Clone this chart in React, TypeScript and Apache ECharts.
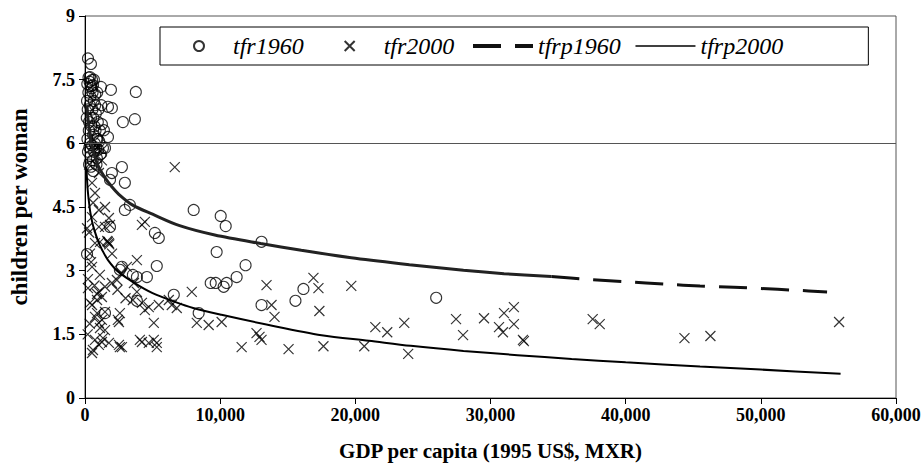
import React, { useEffect, useRef } from "react";
import * as echarts from "echarts";

// ---- data ----
const xTickValues = [0, 10000, 20000, 30000, 40000, 50000, 60000];
const yTickLabels = ["0", "1.5", "3", "4.5", "6", "7.5", "9"];

const tfr1960: [number, number][] = [
  [150, 7.0], [200, 6.8], [250, 7.2], [300, 6.5], [350, 6.9], [400, 7.1], [450, 6.6], [500, 7.3],
  [550, 6.8], [600, 6.2], [650, 7.0], [700, 6.4], [750, 6.9], [800, 6.7], [850, 6.1], [900, 7.2],
  [950, 6.5], [1000, 6.8], [1100, 6.3], [1200, 6.9], [180, 6.1], [220, 5.8], [280, 6.3], [320, 5.9],
  [380, 6.0], [420, 5.7], [480, 6.4], [520, 5.95], [580, 5.6], [620, 6.6], [680, 5.8], [720, 6.0],
  [780, 6.3], [820, 5.9], [880, 5.65], [920, 6.1], [980, 5.85], [1050, 6.05], [1150, 5.75], [1250, 6.45],
  [130, 6.6], [170, 7.4], [260, 7.55], [340, 7.45], [460, 7.35], [560, 7.2], [660, 7.5], [760, 7.15],
  [300, 5.5], [450, 5.45], [600, 5.35], [850, 5.5],
  [220, 8.0], [440, 7.87], [370, 7.56], [520, 7.49], [590, 7.37], [1180, 7.33], [1920, 7.26], [3760, 7.21],
  [1700, 6.86], [1990, 6.83], [2800, 6.5], [3690, 6.57], [1400, 6.31], [1700, 6.15], [1330, 5.89], [1480, 5.89],
  [2730, 5.44], [1990, 5.3], [2950, 5.07], [1850, 5.14], [2950, 4.43], [3320, 4.55], [5170, 3.89], [5460, 3.77],
  [5310, 3.11], [3840, 2.85], [4580, 2.85], [2580, 3.02], [3840, 2.29], [1480, 2.0], [150, 3.39], [6570, 2.43],
  [8410, 2.0], [8040, 4.43], [10040, 4.29], [10410, 4.05], [9740, 3.44], [9300, 2.71], [9670, 2.71], [10260, 2.62],
  [10480, 2.71], [11220, 2.85], [11880, 3.13], [13060, 3.68], [13060, 2.19], [15570, 2.29], [16160, 2.57], [25980, 2.36],
  [1850, 4.03], [2730, 3.09], [3540, 2.9],
];

const tfr2000: [number, number][] = [
  [6640, 5.44], [517, 1.06], [1030, 1.25], [1250, 1.32], [1770, 1.3], [2510, 1.25], [2580, 1.2], [4060, 1.37],
  [4210, 1.32], [5090, 1.37], [5310, 1.3], [5310, 1.2], [5090, 1.77], [2510, 1.79], [2580, 2.0], [1250, 1.84],
  [1480, 1.6], [740, 1.91], [520, 2.19], [890, 2.31], [1250, 2.38], [1030, 2.5], [1480, 2.62], [1990, 2.71],
  [2360, 2.78], [2730, 2.94], [3100, 3.09], [3840, 3.25], [3620, 2.71], [3840, 2.5], [4210, 2.24], [4720, 2.14],
  [5460, 2.19], [6200, 2.31], [6420, 2.19], [6790, 2.12], [7900, 2.5], [8270, 1.77], [9150, 1.72], [10110, 1.79],
  [11590, 1.2], [12690, 1.53], [12910, 1.44], [13060, 1.37], [13430, 2.66], [13800, 2.19], [14020, 1.91], [15060, 1.15],
  [16900, 2.83], [17270, 2.59], [17340, 2.05], [17640, 1.22], [19700, 2.64], [20660, 1.22], [21480, 1.67], [22360, 1.55],
  [23620, 1.77], [23910, 1.04], [27450, 1.86], [27970, 1.48], [29520, 1.88], [31000, 2.0], [31730, 2.14], [30630, 1.67],
  [30920, 1.55], [31730, 1.74], [32400, 1.37], [32470, 1.34], [37560, 1.86], [38080, 1.74], [44350, 1.41], [46270, 1.46],
  [55790, 1.79],
  [520, 3.09], [740, 3.65], [1110, 3.68], [1770, 3.65], [1030, 4.03], [1480, 4.03], [1850, 4.08], [1480, 4.5],
  [1030, 4.43], [520, 4.26], [1770, 4.24], [4210, 4.08], [4430, 4.15], [740, 4.83], [520, 5.07], [1030, 5.3],
  [1250, 5.6], [660, 5.84], [1250, 5.84], [1030, 1.77], [740, 1.37], [2730, 1.2], [4720, 1.3], [590, 1.13], [1330, 1.41],
  [220, 2.59], [890, 2.45], [370, 2.24], [890, 2.0], [1480, 2.03], [1110, 1.65], [2430, 1.84], [3540, 2.31],
  [4430, 2.07], [220, 2.8], [370, 3.4], [300, 3.9], [600, 4.6], [300, 5.5], [890, 5.9], [150, 4.0], [450, 3.2],
  [1100, 2.9], [2000, 3.4], [2400, 2.55], [3000, 2.35], [700, 2.65], [200, 1.5], [350, 1.75],
  [1700, 3.68], [1800, 3.62], [1650, 3.7],
];

const tfrp1960Solid: [number, number][] = [
  [150, 6.9], [200, 6.65], [300, 6.35], [400, 6.12], [550, 5.9], [700, 5.72], [1000, 5.45], [1500, 5.18],
  [2000, 4.97], [2500, 4.8], [3500, 4.55], [5000, 4.33], [7000, 4.06], [9600, 3.84], [13000, 3.64], [16000, 3.48],
  [20000, 3.29], [24000, 3.14], [28000, 3.01], [31000, 2.93], [34500, 2.86],
];
const tfrp1960Dashed: [number, number][] = [
  [34500, 2.86], [37000, 2.8], [40000, 2.74], [43000, 2.68], [45500, 2.64], [48000, 2.61], [50000, 2.58],
  [52500, 2.54], [54900, 2.5],
];
const tfrp2000: [number, number][] = [
  [100, 5.45], [150, 5.15], [200, 4.9], [300, 4.6], [400, 4.36], [550, 4.12], [700, 3.95], [1000, 3.67],
  [1250, 3.5], [1700, 3.25], [2500, 2.96], [3700, 2.7], [5000, 2.47], [6600, 2.27], [8000, 2.12], [10100, 1.96],
  [13600, 1.72], [17500, 1.48], [21000, 1.35], [24100, 1.23], [28000, 1.11], [32000, 1.01], [36000, 0.92],
  [40000, 0.84], [45500, 0.74], [50000, 0.67], [55900, 0.57],
];

const FONT = "'Liberation Serif', 'Times New Roman', Times, serif";
const CROSS = "path://M0,0L10,10M10,0L0,10";
const legendText = { fontFamily: FONT, fontStyle: "italic", fontSize: 24, color: "#000", lineHeight: 24 };

export default function App() {
  const ref = useRef<HTMLDivElement>(null);
  useEffect(() => {
    document.body.style.margin = "0";
    const chart = echarts.init(ref.current!, undefined, { renderer: "svg" });
    chart.setOption({
      animation: false,
      backgroundColor: "#fff",
      grid: {
        left: 83, right: 28, top: 16, bottom: 69, containLabel: false,
        show: true, borderColor: "#555", borderWidth: 1, backgroundColor: "transparent",
      },
      legend: [
        {
          left: 160, top: 27,
          padding: [7, 414, 7, 33],
          borderColor: "#000", borderWidth: 1,
          itemWidth: 10, itemHeight: 10, itemGap: 40,
          textStyle: legendText,
          data: [
            { name: "tfr1960", textStyle: { padding: [0, 0, 0, 24] } },
            { name: "tfr2000", textStyle: { padding: [0, 0, 0, 24] } },
          ],
        },
        {
          left: 471, top: 34,
          padding: 0,
          itemWidth: 60, itemHeight: 10, itemGap: 14,
          textStyle: legendText,
          data: [
            { name: "tfrp1960", lineStyle: { width: 4 }, itemStyle: { opacity: 0 } },
            { name: "tfrp2000", lineStyle: { width: 1.6 }, itemStyle: { opacity: 0 } },
          ],
        },
      ],
      xAxis: {
        type: "value", min: xTickValues[0], max: xTickValues[xTickValues.length - 1], interval: 10000,
        name: "GDP per capita (1995 US$, MXR)", nameLocation: "middle", nameGap: 42,
        nameTextStyle: { fontFamily: FONT, fontWeight: "bold", fontSize: 21, color: "#000" },
        axisLine: { lineStyle: { color: "#000", width: 1 } },
        axisTick: { show: true, length: 6, lineStyle: { color: "#000" } },
        axisLabel: {
          fontFamily: FONT, fontWeight: "bold", fontSize: 18, color: "#000", margin: 8,
          formatter: (v: number) => v.toLocaleString("en-US"),
        },
        splitLine: { show: false },
      },
      yAxis: {
        type: "value", min: 0, max: 9, interval: 1.5,
        name: "children per woman", nameLocation: "middle", nameGap: 54,
        nameTextStyle: { fontFamily: FONT, fontWeight: "bold", fontSize: 23, color: "#000" },
        axisLine: { show: true, lineStyle: { color: "#000", width: 1 } },
        axisTick: { show: true, length: 6, lineStyle: { color: "#000" } },
        axisLabel: {
          fontFamily: FONT, fontWeight: "bold", fontSize: 18, color: "#000", margin: 10,
          formatter: (_v: number, i: number) => yTickLabels[i],
        },
        splitLine: { show: false },
      },
      series: [
        {
          name: "tfr1960", type: "scatter", data: tfr1960,
          symbol: "circle", symbolSize: 11,
          itemStyle: { color: "rgba(0,0,0,0)", borderColor: "#000", borderWidth: 1.1 },
          markLine: {
            silent: true, symbol: "none", label: { show: false },
            lineStyle: { color: "#555", width: 1, type: "solid" },
            data: [{ yAxis: 6 }],
          },
          z: 2,
        },
        {
          name: "tfr2000", type: "scatter", data: tfr2000,
          symbol: CROSS, symbolSize: 10, symbolKeepAspect: true,
          itemStyle: { color: "rgba(0,0,0,0)", borderColor: "#000", borderWidth: 1.2 },
          z: 2,
        },
        {
          name: "tfrp1960", type: "line", data: tfrp1960Dashed, symbol: "none", showSymbol: false,
          smooth: 0.3, lineStyle: { color: "#111", width: 3, type: [28, 14] }, z: 3,
        },
        {
          name: "tfrp1960 fit (dense part)", type: "line", data: tfrp1960Solid, symbol: "none", showSymbol: false,
          smooth: 0.3, lineStyle: { color: "#222", width: 3, type: "solid" }, z: 3,
        },
        {
          name: "tfrp2000", type: "line", data: tfrp2000, symbol: "none", showSymbol: false,
          smooth: 0.3, lineStyle: { color: "#000", width: 2, type: "solid" }, z: 3,
        },
      ],
    });
    return () => chart.dispose();
  }, []);
  return <div ref={ref} style={{ position: "absolute", left: 0, top: 0, width: 924, height: 467 }} />;
}
